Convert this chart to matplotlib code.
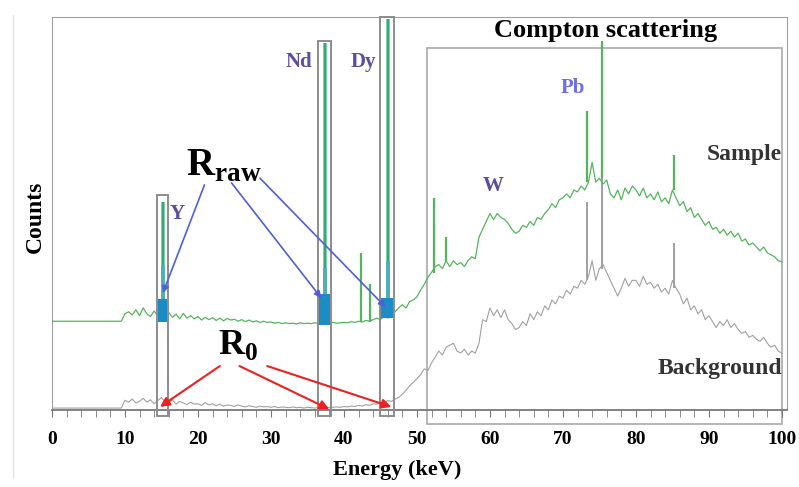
"""
Sample vs background spectrum with peak regions and Compton region
"""

import numpy as np
import matplotlib.pyplot as plt
from matplotlib.patches import Rectangle
from matplotlib.lines import Line2D

plt.rcParams['font.family'] = ['Liberation Serif', 'DejaVu Serif']
plt.rcParams['font.weight'] = 'bold'
plt.rcParams['mathtext.fontset'] = 'custom'
plt.rcParams['mathtext.rm'] = 'Liberation Serif:bold'
plt.rcParams['mathtext.bf'] = 'Liberation Serif:bold'

# energy grid (keV), 0.5 keV steps
energy = np.arange(0, 100.01, 0.5)

# background continuum (arb. counts)
background = [
    0.5] * 20 + [
    2.5, 2.0, 2.8, 1.8, 2.2, 3.0, 2.0, 2.6, 1.6, 2.4, 3.2, 2.0, 1.8, 2.6, 1.5, 2.2, 1.8, 1.4, 2.0, 1.5,
    1.6, 1.2, 1.9, 1.3, 1.6, 1.1, 1.5, 1.0, 1.3, 1.2, 0.9, 1.3, 1.0, 0.8, 1.1, 0.9, 0.7, 1.0, 0.8, 0.9,
    0.7, 0.9, 0.6, 0.8, 0.7, 0.6, 0.8, 0.6, 0.7, 0.5, 0.7, 0.6, 0.5, 0.7, 0.6, 0.8, 0.6, 0.7, 0.8, 0.7,
    0.9, 0.8, 1.0, 0.9, 1.2, 1.0, 1.4, 1.2, 1.6, 1.5, 2.0, 1.8, 2.4, 2.2, 2.8, 3.2, 4.0, 5.0, 6.2, 7.0,
    8.0, 9.0, 10.5, 10.0, 12.0, 13.5, 15.0, 14.0, 16.0, 16.5, 17.0, 15.0, 14.5, 15.5, 14.0, 15.0, 14.5, 17.0, 23.0, 22.5,
    26.0, 24.0, 25.5, 23.5, 25.5, 23.0, 22.0, 20.5, 21.0, 22.5, 21.5, 24.5, 23.0, 25.0, 24.0, 26.5, 25.5, 28.0, 27.0, 29.0,
    28.5, 30.5, 29.5, 31.5, 31.0, 33.0, 32.0, 34.0, 38.0, 33.0, 36.0, 37.0, 35.0, 33.0, 31.0, 29.0, 31.0, 33.5, 31.5, 33.0,
    33.0, 31.5, 34.0, 32.0, 32.5, 31.0, 32.0, 30.0, 31.0, 29.5, 33.0, 31.0, 29.5, 27.0, 28.5, 25.5, 26.5, 24.5, 25.5, 23.0,
    24.0, 22.5, 21.0, 22.5, 21.5, 23.0, 21.0, 22.0, 20.5, 19.5, 20.0, 18.5, 19.0, 18.0, 17.5, 18.5, 17.0, 16.0, 16.5, 15.0,
    14.5]

# sample continuum (offset upwards)
sample = [
    22.6] * 20 + [
    24.5, 25.0, 24.2, 25.5, 24.0, 26.0, 24.5, 23.8, 25.2, 24.0, 25.5, 23.5, 24.8, 23.6, 24.4, 23.2, 24.6, 23.4, 24.0, 23.2,
    23.8, 22.9, 23.6, 23.0, 23.5, 22.8, 23.4, 22.7, 23.3, 22.9, 23.1, 22.6, 23.0, 22.5, 22.9, 22.4, 22.7, 22.3, 22.6, 22.3,
    22.4, 22.1, 22.3, 22.0, 22.2, 22.0, 22.1, 21.9, 22.2, 22.0, 22.1, 22.0, 22.2, 22.0, 22.1, 22.2, 22.0, 22.3, 22.1, 22.2,
    22.3, 22.2, 22.5, 22.3, 22.6, 22.4, 22.8, 22.6, 23.0, 23.4, 23.0, 23.8, 23.4, 24.0, 25.0, 26.0, 26.8, 26.0, 27.6, 28.0,
    28.8, 30.5, 32.0, 33.8, 35.0, 36.5, 37.0, 36.0, 38.0, 36.5, 38.0, 37.0, 37.5, 36.5, 38.0, 39.0, 38.5, 44.0, 46.0, 48.0,
    50.0, 48.5, 50.0, 49.0, 48.5, 47.5, 46.0, 45.0, 45.5, 47.0, 46.5, 48.0, 47.0, 49.0, 48.5, 50.0, 51.0, 52.5, 51.5, 53.5,
    54.0, 55.0, 54.0, 56.0, 55.5, 57.0, 56.0, 58.0, 63.0, 58.0, 59.0, 57.5, 58.5, 55.0, 54.0, 56.0, 53.5, 56.5, 55.0, 57.0,
    56.0, 54.5, 56.5, 54.0, 55.0, 53.5, 55.5, 53.0, 54.0, 52.5, 56.0, 54.0, 52.0, 53.0, 50.5, 51.5, 49.0, 50.0, 48.5, 47.0,
    48.0, 46.0, 46.5, 45.0, 46.0, 44.5, 45.5, 44.0, 45.0, 43.0, 43.5, 42.0, 42.5, 41.5, 40.5, 41.5, 40.0, 39.5, 39.0, 38.0,
    37.7]

# narrow lines outside the element boxes
bg_peak_e = [73.3, 75.4, 85.2]
bg_peak_base = [33.0, 36.0, 31.0]
bg_peak_top = [53.0, 70.5, 42.5]

smp_peak_e = [42.4, 43.6, 52.4, 54.0, 73.3, 75.4, 85.2]
smp_peak_base = [22.4, 22.5, 35.0, 38.0, 58.0, 59.0, 56.0]
smp_peak_top = [40.0, 32.0, 54.0, 44.0, 76.0, 94.0, 65.0]

# element lines (Y, Nd, Dy) and their integration boxes
elements = ['Y', 'Nd', 'Dy']
elem_e = [15.2, 37.4, 46.0]
elem_top = [53.0, 93.5, 99.5]
elem_base = [22.8, 22.1, 24.0]
box_lo = [14.4, 36.4, 45.0]
box_hi = [15.9, 38.2, 46.8]
box_top = [54.7, 94.0, 100.0]
raw_height = [6.0, 8.0, 5.0]

GREEN = '#55b45e'
GRAY = '#a0a0a0'

fig = plt.figure(figsize=(7.99, 4.87), dpi=100)
ax = fig.add_axes([0.065, 0.158, 0.92, 0.807])

ax.plot(energy, background, color=GRAY, lw=0.8, zorder=2)
ax.vlines(bg_peak_e, bg_peak_base, bg_peak_top, color=GRAY, lw=1.4, zorder=2)
ax.plot(energy, sample, color=GREEN, lw=0.9, zorder=3)
ax.vlines(smp_peak_e, smp_peak_base, smp_peak_top, color=GREEN, lw=1.6, zorder=3)

for e, t, b, lo, hi, bt, rh in zip(elem_e, elem_top, elem_base, box_lo, box_hi,
                                   box_top, raw_height):
    ax.bar(e, t - b, bottom=b, width=0.6, color='#7ccfae', lw=0, zorder=4)
    ax.vlines(e, b, t, color='#36a874', lw=1.4, zorder=5)
    ax.bar(e, 14, bottom=b, width=0.6, color='#4fb0b8', lw=0, zorder=5)
    ax.bar((lo + hi) / 2, rh, bottom=b - 0.5, width=(hi - lo) * 0.85,
           color='#1d8cc6', lw=0, zorder=6)
    ax.add_patch(Rectangle((lo, -1.5), hi - lo, bt + 1.5, fill=False,
                           ec='#8c8c8c', lw=1.4, clip_on=False, zorder=7))

# Compton region
ax.add_patch(Rectangle((51.4, -3.6), 100 - 51.4, 92 + 3.6, fill=False,
                       ec='#b0b0b0', lw=1.3, clip_on=False, zorder=1))

ax.set_xlim(0, 100.7)
ax.set_ylim(0, 100)
ax.set_yticks([])
ax.set_xticks(range(0, 101, 10))
ax.set_xticks(range(0, 101, 2), minor=True)
ax.tick_params(axis='x', which='both', direction='out', length=5, color='#777777',
               labelsize=14, pad=10)
for s in ax.spines.values():
    s.set_color('#a0a0a0')
ax.spines['bottom'].set_color('#777777')
ax.spines['bottom'].set_linewidth(1.3)

ax.set_xlabel('Energy (keV)', fontsize=16, fontweight='bold')
ax.xaxis.set_label_coords(0.47, -0.152)
ax.xaxis.label.set_va('center')
fig.text(35 / 799, 1 - 217 / 487, 'Counts', rotation=90, fontsize=17,
         fontweight='bold', ha='center', va='center')

# labels
ax.text(75.8, 96.7, 'Compton scattering', fontsize=19, ha='center', va='center')
ax.text(17.2, 50, 'Y', fontsize=15, color='#5a4f9e', ha='center', va='center')
ax.text(33.9, 88.5, 'Nd', fontsize=15, color='#5a4f9e', ha='center', va='center')
ax.text(42.7, 88.5, 'Dy', fontsize=15, color='#5a4f9e', ha='center', va='center')
ax.text(60.5, 57, 'W', fontsize=15, color='#5a4f9e', ha='center', va='center')
ax.text(71.4, 82, 'Pb', fontsize=15, color='#6f6fe0', ha='center', va='center')
ax.text(100, 65, 'Sample', fontsize=17, color='#333333', ha='right', va='center')
ax.text(100, 10.7, 'Background', fontsize=17, color='#333333', ha='right', va='center')

ax.text(23.5, 62, r'$\mathrm{R}_{\mathrm{raw}}$', fontsize=28, ha='center', va='center')
ax.text(25.5, 16.5, r'$\mathrm{R}_{0}$', fontsize=26, ha='center', va='center')

raw_tail = [(20.9, 57.3), (24.6, 57.8), (28.5, 59.0)]
raw_head = [(15.2, 29.8), (36.9, 28.5), (45.7, 26.2)]
for t, h in zip(raw_tail, raw_head):
    ax.annotate('', xy=h, xytext=t, zorder=8,
                arrowprops=dict(arrowstyle='-|>', color='#4f5fd6', lw=1.2,
                                mutation_scale=10, shrinkA=0, shrinkB=0))

r0_tail = [(23.0, 11.2), (25.7, 11.2), (29.5, 11.2)]
r0_head = [(14.8, 0.8), (38.0, 0.2), (46.5, 0.8)]
for t, h in zip(r0_tail, r0_head):
    ax.annotate('', xy=h, xytext=t, zorder=8,
                arrowprops=dict(arrowstyle='-|>', color='#ee2020', lw=1.5,
                                mutation_scale=14, shrinkA=0, shrinkB=0))

fig.add_artist(Line2D([13 / 799] * 2, [0.02, 0.97], color='#e2e2e2', lw=1))

plt.savefig('out.png', dpi=100)
